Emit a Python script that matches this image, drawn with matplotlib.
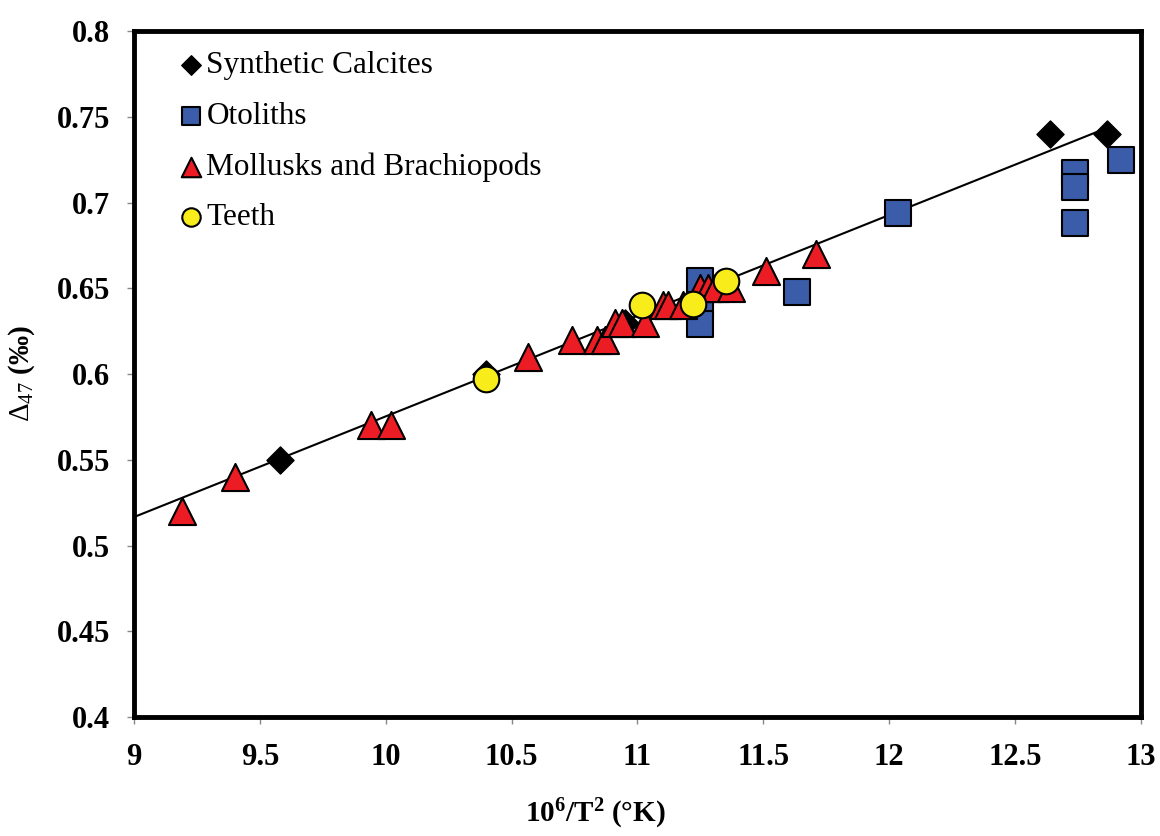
import numpy as np
import matplotlib.pyplot as plt

plt.rcParams['font.family'] = ['Liberation Serif', 'DejaVu Serif']
plt.rcParams['mathtext.fontset'] = 'custom'
plt.rcParams['mathtext.rm'] = 'Liberation Serif'
plt.rcParams['mathtext.it'] = 'Liberation Serif'
plt.rcParams['mathtext.bf'] = 'Liberation Serif:bold'

# 10^6/T^2 and Delta47 for each sample group
calc_x = [9.58, 10.40, 10.95, 12.64, 12.865]
calc_y = [0.550, 0.600, 0.630, 0.740, 0.740]

oto_x = [11.25, 11.25, 11.25, 11.635, 12.035, 12.74, 12.74, 12.74, 12.92]
oto_y = [0.654, 0.640, 0.629, 0.648, 0.694, 0.717, 0.709, 0.688, 0.725]

moll_x = [9.19, 9.40, 9.94, 10.02, 10.565, 10.74, 10.84, 10.87, 10.91, 10.94,
          11.03, 11.10, 11.12, 11.18, 11.25, 11.28, 11.31, 11.37, 11.51, 11.71]
moll_y = [0.52, 0.54, 0.57, 0.57, 0.61, 0.62, 0.62, 0.62, 0.63, 0.63,
          0.63, 0.64, 0.64, 0.64, 0.65, 0.65, 0.65, 0.65, 0.66, 0.67]

teeth_x = [10.40, 11.02, 11.22, 11.35]
teeth_y = [0.597, 0.640, 0.641, 0.654]

# linear fit  D47 = a * 10^6/T^2 + b
fit_a, fit_b = 0.0587, -0.0117
fit_range = [9.0, 12.87]

fig = plt.figure(figsize=(11.6, 8.36), dpi=100)
ax = fig.add_axes([0.1155, 0.1423, 0.868, 0.8206])

fx = np.array(fit_range)
ax.plot(fx, fit_a * fx + fit_b, color='black', lw=1.5, zorder=1)

ax.scatter(moll_x, moll_y, marker='^', s=380, c='#ec1c24', edgecolors='black',
           linewidths=1.5, zorder=3, label='Mollusks and Brachiopods')
ax.scatter(oto_x, oto_y, marker='s', s=340, c='#3a5ca9', edgecolors='black',
           linewidths=1.5, zorder=2, label='Otoliths')
ax.scatter(teeth_x, teeth_y, marker='o', s=340, c='#f8ec1a', edgecolors='black',
           linewidths=1.5, zorder=4, label='Teeth')
ax.scatter(calc_x, calc_y, marker='D', s=190, c='black', edgecolors='black',
           linewidths=1, zorder=2, label='Synthetic Calcites')

ax.set_xlim(9, 13)
ax.set_ylim(0.4, 0.8)
ax.set_xticks(np.arange(9, 13.01, 0.5))
ax.set_yticks(np.arange(0.4, 0.801, 0.05))
ax.set_xticklabels(['9', '9.5', '10', '10.5', '11', '11.5', '12', '12.5', '13'])
ax.set_yticklabels(['0.4', '0.45', '0.5', '0.55', '0.6', '0.65', '0.7', '0.75', '0.8'])
for lab in ax.get_xticklabels() + ax.get_yticklabels():
    lab.set_fontweight('bold')
    lab.set_fontsize(22)
ax.tick_params(direction='out', length=5, width=1, color='#888888')
ax.tick_params(axis='x', pad=14)
ax.tick_params(axis='y', pad=12)
for sp in ax.spines.values():
    sp.set_linewidth(3.5)

ax.set_xlabel(r'10$^{\mathbf{6}}$/T$^{\mathbf{2}}$ (°K)', fontsize=21, fontweight='bold')
ax.xaxis.set_label_coords(0.458, -0.116)
ax.set_ylabel(r'$\Delta_{47}$ (‰)', fontsize=21, fontweight='bold')
ax.yaxis.set_label_coords(-0.096, 0.5)

h, l = ax.get_legend_handles_labels()
order = [3, 1, 0, 2]
leg = ax.legend([h[i] for i in order], [l[i] for i in order], loc='upper left',
                frameon=False, fontsize=22.5, handletextpad=-0.1, labelspacing=0.69,
                borderaxespad=0.4, markerscale=0.72, handlelength=1.2,
                bbox_to_anchor=(0.013, 1.007))

fig.savefig('out.png', dpi=100)
